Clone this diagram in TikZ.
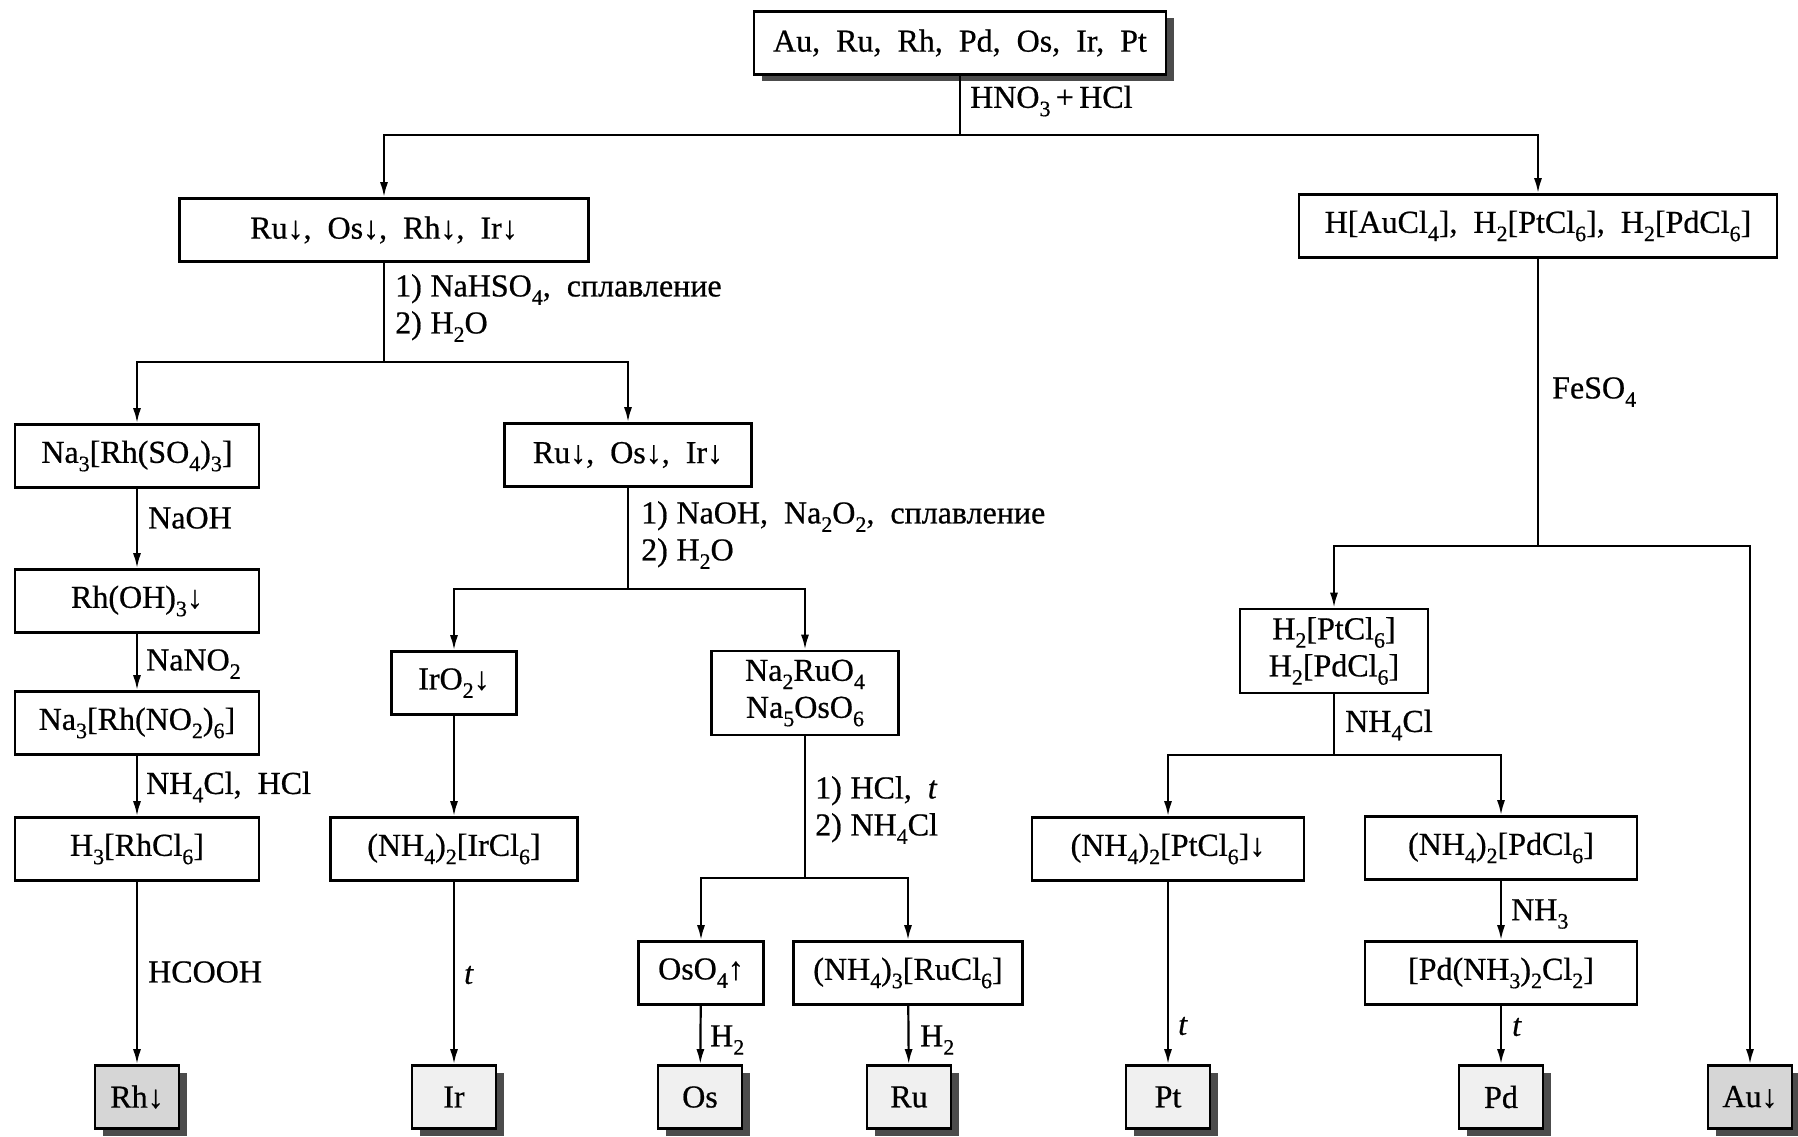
\documentclass[tikz,border=0pt]{standalone}
\usepackage{fontspec}
\setmainfont{Liberation Serif}[FakeBold=0.6]
\usetikzlibrary{arrows.meta,shadows}
% chemical subscript
\newcommand{\chsub}[1]{\raisebox{-0.26em}{\fontsize{22}{22}\selectfont #1}}
% narrow space after a step number
\newcommand{\nsp}{\hspace{0.27em}}
\newcommand{\basefont}{\fontsize{32}{37}\selectfont\spaceskip=0.5em plus 0.1em\relax}
\begin{document}
\begin{tikzpicture}[x=1pt,y=-1pt,
  font=\basefont,
  box/.style={draw,line width=2.6pt,fill=white,inner sep=0pt,minimum height=63pt,align=center},
  twoline/.style={box,minimum height=84pt},
  shade/.style={drop shadow={shadow xshift=8pt,shadow yshift=-7pt,fill=black!70,opacity=1}},
  final/.style={box,minimum width=84pt,fill=gray!12,shade},
  dark/.style={fill=gray!32},
  link/.style={line width=2.2pt},
  arr/.style={link,-{Latex[length=15pt,width=8pt]}},
  lab/.style={anchor=west,inner sep=0pt,align=left}
]
\useasboundingbox (0,0) rectangle (1798,1137);
\fill[white] (0,0) rectangle (1798,1137);

% ---------- nodes ----------
\node[box,minimum width=412pt,shade] (top) at (960,43) {Au, Ru, Rh, Pd, Os, Ir, Pt};

\node[box,minimum width=409pt] (A) at (384,230) {Ru↓, Os↓, Rh↓, Ir↓};
\node[box,minimum width=478pt] (B) at (1538,226) {H[AuCl\chsub{4}], H\chsub{2}[PtCl\chsub{6}], H\chsub{2}[PdCl\chsub{6}]};

% rhodium column
\node[box,minimum width=244pt] (C) at (137,456) {Na\chsub{3}[Rh(SO\chsub{4})\chsub{3}]};
\node[box,minimum width=244pt] (RhOH) at (137,601) {Rh(OH)\chsub{3}↓};
\node[box,minimum width=244pt] (RhNO) at (137,723) {Na\chsub{3}[Rh(NO\chsub{2})\chsub{6}]};
\node[box,minimum width=244pt] (RhCl) at (137,849) {H\chsub{3}[RhCl\chsub{6}]};
\node[final,dark] (Rh) at (137,1097) {Rh↓};

% ruthenium / osmium / iridium branch
\node[box,minimum width=247pt] (D) at (628,455) {Ru↓, Os↓, Ir↓};
\node[box,minimum width=125pt] (IrO) at (454,683) {IrO\chsub{2}↓};
\node[twoline,minimum width=187pt] (NaRu) at (805,693) {Na\chsub{2}RuO\chsub{4}\\Na\chsub{5}OsO\chsub{6}};
\node[box,minimum width=247pt] (IrCl) at (454,849) {(NH\chsub{4})\chsub{2}[IrCl\chsub{6}]};
\node[final] (Ir) at (454,1097) {Ir};
\node[box,minimum width=125pt] (OsO) at (701,973) {OsO\chsub{4}↑};
\node[box,minimum width=229pt] (RuCl) at (908,973) {(NH\chsub{4})\chsub{3}[RuCl\chsub{6}]};
\node[final] (Os) at (700,1097) {Os};
\node[final] (Ru) at (909,1097) {Ru};

% platinum / palladium / gold branch
\node[twoline,minimum width=188pt] (HPt) at (1334,651) {H\chsub{2}[PtCl\chsub{6}]\\H\chsub{2}[PdCl\chsub{6}]};
\node[box,minimum width=272pt] (PtCl) at (1168,849) {(NH\chsub{4})\chsub{2}[PtCl\chsub{6}]↓};
\node[box,minimum width=272pt] (PdCl) at (1501,848) {(NH\chsub{4})\chsub{2}[PdCl\chsub{6}]};
\node[box,minimum width=272pt] (PdN) at (1501,973) {[Pd(NH\chsub{3})\chsub{2}Cl\chsub{2}]};
\node[final] (Pt) at (1168,1097) {Pt};
\node[final] (Pd) at (1501,1097) {Pd};
\node[final,dark] (Au) at (1750,1097) {Au↓};

% ---------- branch points ----------
\coordinate (j1) at (960,135);
\coordinate (jA) at (384,362);
\coordinate (jD) at (628,589);
\coordinate (jN) at (805,878);
\coordinate (jB) at (1538,546);
\coordinate (jH) at (1334,755);

% ---------- connectors ----------
\draw[link] (top) -- (j1);
\draw[arr] (j1) -| (A);
\draw[arr] (j1) -| (B);

\draw[link] (A) -- (jA);
\draw[arr] (jA) -| (C);
\draw[arr] (jA) -| (D);

\draw[arr] (C) -- (RhOH);
\draw[arr] (RhOH) -- (RhNO);
\draw[arr] (RhNO) -- (RhCl);
\draw[arr] (RhCl) -- (Rh);

\draw[link] (D) -- (jD);
\draw[arr] (jD) -| (IrO);
\draw[arr] (jD) -| (NaRu);
\draw[arr] (IrO) -- (IrCl);
\draw[arr] (IrCl) -- (Ir);

\draw[link] (NaRu) -- (jN);
\draw[arr] (jN) -| (OsO);
\draw[arr] (jN) -| (RuCl);
\draw[arr] (OsO) -- (Os);
\draw[arr] (RuCl) -- (Ru);

\draw[link] (B) -- (jB);
\draw[arr] (jB) -| (HPt);
\draw[arr] (jB) -| (Au);

\draw[link] (HPt) -- (jH);
\draw[arr] (jH) -| (PtCl);
\draw[arr] (jH) -| (PdCl);
\draw[arr] (PtCl) -- (Pt);
\draw[arr] (PdCl) -- (PdN);
\draw[arr] (PdN) -- (Pd);

% ---------- reagent labels ----------
\node[lab] (l1) at (970,101) {HNO\chsub{3}\,+\,HCl};
\node[lab] (l2) at (395,308) {1)\nsp NaHSO\chsub{4}, сплавление\\2)\nsp H\chsub{2}O};
\node[lab] (l3) at (1552,392) {FeSO\chsub{4}};
\node[lab] (l4) at (148,518) {NaOH};
\node[lab] (l5) at (146,664) {NaNO\chsub{2}};
\node[lab] (l6) at (146,787) {NH\chsub{4}Cl, HCl};
\node[lab] (l7) at (148,972) {HCOOH};
\node[lab] (l8) at (641,535) {1)\nsp NaOH, Na\chsub{2}O\chsub{2}, сплавление\\2)\nsp H\chsub{2}O};
\node[lab] (l9) at (464,975) {\textit{t}};
\node[lab] (l10) at (815,810) {1)\nsp HCl, \textit{t}\\2)\nsp NH\chsub{4}Cl};
\node[lab] (l11) at (710,1040) {H\chsub{2}};
\node[lab] (l12) at (920,1040) {H\chsub{2}};
\node[lab] (l13) at (1345,725) {NH\chsub{4}Cl};
\node[lab] (l14) at (1511,914) {NH\chsub{3}};
\node[lab] (l15) at (1178,1026) {\textit{t}};
\node[lab] (l16) at (1512,1027) {\textit{t}};
\end{tikzpicture}
\end{document}
